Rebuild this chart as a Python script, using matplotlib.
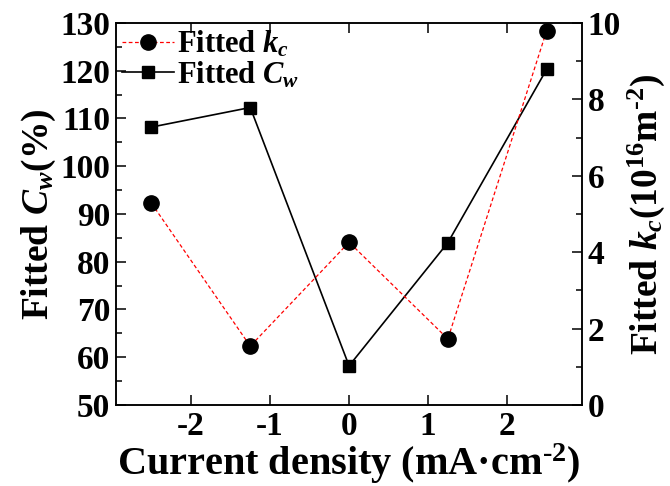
import numpy as np
import matplotlib
matplotlib.use('Agg')
import matplotlib.pyplot as plt
from matplotlib.ticker import MultipleLocator

# Data
current_density = [-2.5, -1.25, 0.0, 1.25, 2.5]      # mA/cm^2
fitted_cw = [108.2, 112.3, 58.2, 84.0, 120.3]         # %
fitted_kc = [5.28, 1.54, 4.26, 1.73, 9.80]            # 1e16 m^-2

plt.rcParams['font.family'] = 'Liberation Serif'
plt.rcParams['font.weight'] = 'bold'
plt.rcParams['axes.labelweight'] = 'bold'
plt.rcParams['mathtext.fontset'] = 'custom'
plt.rcParams['mathtext.rm'] = 'Liberation Serif:bold'
plt.rcParams['mathtext.bf'] = 'Liberation Serif:bold'
plt.rcParams['mathtext.it'] = 'Liberation Serif:italic:bold'
plt.rcParams['axes.unicode_minus'] = False

fig = plt.figure(figsize=(6.7, 4.86), dpi=100)
ax = fig.add_axes([0.173, 0.1667, 0.696, 0.786])
ax2 = ax.twinx()

l1, = ax2.plot(current_density, fitted_kc, color='red', ls=(0, (3, 2)), lw=0.9,
               marker='o', ms=11, mfc='black', mec='black', label=r'Fitted $k_c$')
l2, = ax.plot(current_density, fitted_cw, color='black', lw=1.2,
              marker='s', ms=8, mfc='black', mec='black', label=r'Fitted $C_w$')

ax.set_xlim(-2.95, 2.95)
ax.set_ylim(50, 130)
ax2.set_ylim(0, 10)

ax.xaxis.set_major_locator(MultipleLocator(1))
ax.yaxis.set_major_locator(MultipleLocator(10))
ax.yaxis.set_minor_locator(MultipleLocator(5))
ax2.yaxis.set_major_locator(MultipleLocator(2))
ax2.yaxis.set_minor_locator(MultipleLocator(1))

ax.tick_params(axis='x', which='both', direction='in', top=True, length=7, width=1.1,
               labelsize=24, pad=4)
ax.tick_params(axis='y', which='major', direction='in', length=7, width=1.1, labelsize=24, pad=4)
ax.tick_params(axis='y', which='minor', direction='in', length=4, width=1.1)
ax2.tick_params(axis='y', which='major', direction='in', length=7, width=1.1, labelsize=24, pad=4)
ax2.tick_params(axis='y', which='minor', direction='in', length=4, width=1.1)

for a in (ax, ax2):
    for s in a.spines.values():
        s.set_linewidth(1.1)

ax.set_xlabel(r'Current density (mA·cm$^{\text{-2}}$)', fontsize=29, labelpad=0)
ax.set_ylabel(r'Fitted $C_w$(%)', fontsize=27, labelpad=2)
ax2.set_ylabel(r'Fitted $k_c$(10$^{16}$m$^{\text{-2}}$)', fontsize=27, labelpad=3)

ax.legend(handles=[l1, l2], loc='upper left', frameon=False, fontsize=22,
          handlelength=1.7, handletextpad=0.1, labelspacing=0.0,
          borderaxespad=0.0, borderpad=0.2, bbox_to_anchor=(0.0, 1.0))

fig.savefig('out.png', dpi=100)
